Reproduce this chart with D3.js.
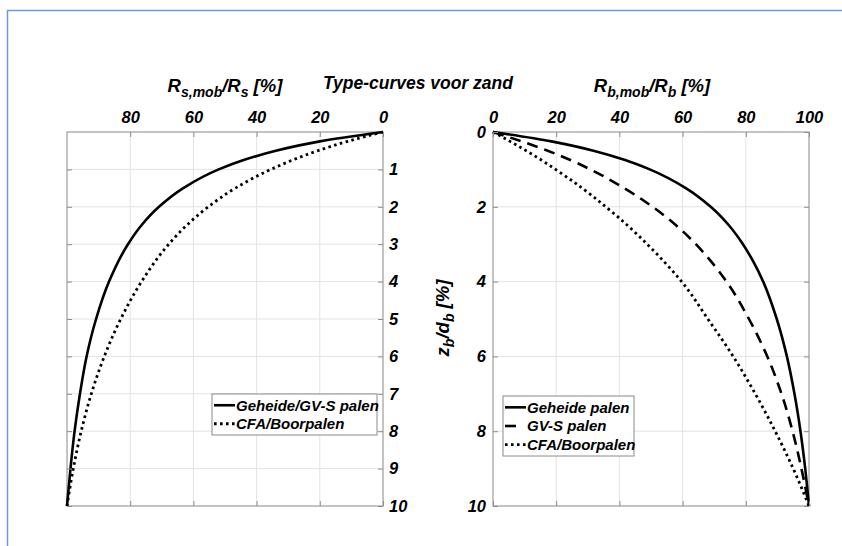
<!DOCTYPE html>
<html><head><meta charset="utf-8">
<script src="https://cdn.jsdelivr.net/npm/d3@7"></script>
<style>
html,body{margin:0;padding:0;background:#fff;}
svg{display:block;}
text{font-family:"Liberation Sans",Arial,sans-serif;font-weight:bold;font-style:italic;fill:#000;}
</style></head>
<body>
<script>
// ---------- data ----------
const zLeft        = [0, 0.25, 0.5, 0.75, 1, 1.5, 2, 2.5, 3, 4, 5, 6, 7, 8, 9, 10];
const leftGeheide  = [0, 20.0, 33.9, 44.1, 52.0, 63.2, 70.9, 76.5, 80.7, 86.7, 90.8, 93.8, 95.9, 97.6, 98.9, 100];
const leftCFA      = [0, 11.2, 20.6, 28.6, 35.5, 46.7, 55.3, 62.2, 67.8, 76.4, 83.0, 88.2, 92.3, 95.5, 98.0, 100];

const zRight       = [0, 0.25, 0.5, 0.75, 1, 1.5, 2, 2.5, 3, 3.5, 4, 5, 6, 7, 8, 9, 10];
const rightGeheide = [0, 18.5, 31.8, 41.8, 49.6, 61.0, 68.9, 74.7, 79.1, 82.6, 85.5, 89.8, 93.0, 95.4, 97.3, 98.8, 100];
const rightGVS     = [0, 9.0, 17.3, 24.5, 30.8, 41.5, 50.5, 58.0, 64.2, 69.4, 73.9, 81.0, 86.8, 91.3, 94.8, 97.6, 100];
const rightCFA     = [0, 5.4, 10.5, 15.3, 19.8, 28.2, 35.7, 42.6, 48.8, 54.5, 59.7, 68.0, 76.0, 83.0, 89.3, 95.0, 100];

const leftXTicks   = [80, 60, 40, 20, 0];
const leftXGrid    = [100, 80, 60, 40, 20, 0];
const leftYTicks   = [1, 2, 3, 4, 5, 6, 7, 8, 9, 10];
const leftYGrid    = [0, 1, 2, 3, 4, 5, 6, 7, 8, 9, 10];
const rightXTicks  = [0, 20, 40, 60, 80, 100];
const rightYTicks  = [0, 2, 4, 6, 8, 10];

const title        = "Type-curves voor zand";
const leftLegend   = ["Geheide/GV-S palen", "CFA/Boorpalen"];
const rightLegend  = ["Geheide palen", "GV-S palen", "CFA/Boorpalen"];

// ---------- drawing ----------
const W = 842, H = 546;
const svg = d3.select("body").append("svg").attr("width", W).attr("height", H);

// outer blue frame
svg.append("line").attr("x1", 7).attr("y1", 10.5).attr("x2", W).attr("y2", 10.5)
  .attr("stroke", "#6a9ad8").attr("stroke-width", 1.5);
svg.append("line").attr("x1", 7.5).attr("y1", 10).attr("x2", 7.5).attr("y2", H)
  .attr("stroke", "#6a9ad8").attr("stroke-width", 1.5);

const yTop = 132, yBot = 506;
const y = d3.scaleLinear().domain([0, 10]).range([yTop, yBot]);
const xL = d3.scaleLinear().domain([100, 0]).range([67, 383]);
const xR = d3.scaleLinear().domain([0, 100]).range([493, 809]);

const styles = {
  solid:  {dash: null,   w: 2.6, legendDash: null},
  dashed: {dash: "11,7", w: 2.6, legendDash: "11,14"},
  dotted: {dash: "2.6,3.4", w: 2.8, legendDash: "2.6,3.4"}
};

function panel(x, xGrid, yGrid) {
  const g = svg.append("g");
  const [x0, x1] = d3.extent(x.range());
  g.selectAll(".gx").data(xGrid).join("line")
    .attr("x1", d => x(d)).attr("x2", d => x(d)).attr("y1", yTop).attr("y2", yBot)
    .attr("stroke", "#e3e3e3").attr("stroke-width", 1);
  g.selectAll(".gy").data(yGrid).join("line")
    .attr("x1", x0).attr("x2", x1).attr("y1", d => y(d)).attr("y2", d => y(d))
    .attr("stroke", "#e3e3e3").attr("stroke-width", 1);
  g.append("rect").attr("x", x0).attr("y", yTop).attr("width", x1 - x0).attr("height", yBot - yTop)
    .attr("fill", "none").attr("stroke", "#a6a6a6").attr("stroke-width", 1.2);
  return g;
}

function ticksAll(x, xT, yT, yOnRight) {
  const [x0, x1] = d3.extent(x.range());
  const axT = svg.append("g").attr("transform", `translate(0,${yTop})`)
    .call(d3.axisTop(x).tickValues(xT).tickSizeInner(-5).tickSizeOuter(0).tickPadding(9)
      .tickFormat(d3.format("d")));
  const axB = svg.append("g").attr("transform", `translate(0,${yBot})`)
    .call(d3.axisBottom(x).tickValues(xT).tickSizeInner(-5).tickSizeOuter(0).tickFormat(""));
  let axY1, axY2;
  if (yOnRight) {
    axY1 = svg.append("g").attr("transform", `translate(${x1},0)`)
      .call(d3.axisRight(y).tickValues(yT).tickSizeInner(-5).tickSizeOuter(0).tickPadding(6).tickFormat(d3.format("d")));
    axY2 = svg.append("g").attr("transform", `translate(${x0},0)`)
      .call(d3.axisLeft(y).tickValues(yT).tickSizeInner(-5).tickSizeOuter(0).tickFormat(""));
  } else {
    axY1 = svg.append("g").attr("transform", `translate(${x0},0)`)
      .call(d3.axisLeft(y).tickValues(yT).tickSizeInner(-5).tickSizeOuter(0).tickPadding(7).tickFormat(d3.format("d")));
    axY2 = svg.append("g").attr("transform", `translate(${x1},0)`)
      .call(d3.axisRight(y).tickValues(yT).tickSizeInner(-5).tickSizeOuter(0).tickFormat(""));
  }
  [axT, axB, axY1, axY2].forEach(a => {
    a.select(".domain").remove();
    a.selectAll("line").attr("stroke", "#8c8c8c");
    a.selectAll("text").attr("font-size", 16.5)
      .attr("font-family", '"Liberation Sans", Arial, sans-serif')
      .attr("font-weight", "bold").attr("font-style", "italic").attr("fill", "#000");
  });
}

function curve(x, zs, vs, style) {
  const line = d3.line().x(d => x(d[1])).y(d => y(d[0])).curve(d3.curveMonotoneY);
  const p = svg.append("path").datum(zs.map((z, i) => [z, vs[i]]))
    .attr("d", line).attr("fill", "none").attr("stroke", "#000")
    .attr("stroke-width", styles[style].w).attr("stroke-linejoin", "round");
  if (styles[style].dash) p.attr("stroke-dasharray", styles[style].dash);
}

function legend(x0, y0, w, h, items) {
  const g = svg.append("g");
  g.append("rect").attr("x", x0).attr("y", y0).attr("width", w).attr("height", h)
    .attr("fill", "#fff").attr("stroke", "#8a8a8a").attr("stroke-width", 1);
  const rowH = (h - 4) / items.length;
  items.forEach((it, i) => {
    const cy = y0 + 2 + rowH * (i + 0.5);
    const l = g.append("line").attr("x1", x0 + 2).attr("x2", x0 + 23).attr("y1", cy).attr("y2", cy)
      .attr("stroke", "#000").attr("stroke-width", styles[it.style].w);
    if (styles[it.style].legendDash) l.attr("stroke-dasharray", styles[it.style].legendDash);
    g.append("text").attr("x", x0 + 24).attr("y", cy).attr("dy", "0.35em")
      .attr("font-size", 15).text(it.label);
  });
}

// Left panel
panel(xL, leftXGrid, leftYGrid);
curve(xL, zLeft, leftCFA, "dotted");
curve(xL, zLeft, leftGeheide, "solid");
ticksAll(xL, leftXTicks, leftYTicks, true);
legend(212, 394, 165, 41, [
  {label: leftLegend[0], style: "solid"},
  {label: leftLegend[1], style: "dotted"}
]);

// Right panel
panel(xR, rightXTicks, rightYTicks);
curve(xR, zRight, rightCFA, "dotted");
curve(xR, zRight, rightGVS, "dashed");
curve(xR, zRight, rightGeheide, "solid");
ticksAll(xR, rightXTicks, rightYTicks, false);
legend(503, 396, 131, 60, [
  {label: rightLegend[0], style: "solid"},
  {label: rightLegend[1], style: "dashed"},
  {label: rightLegend[2], style: "dotted"}
]);

// Title and axis labels
svg.append("text").attr("x", 418).attr("y", 89).attr("text-anchor", "middle")
  .attr("font-size", 17.5).text(title);

function ratioLabel(cx, cy, sub) {
  const t = svg.append("text").attr("x", cx).attr("y", cy).attr("text-anchor", "middle").attr("font-size", 18.5);
  t.append("tspan").text("R");
  t.append("tspan").attr("font-size", 14).attr("dy", 5).text(sub + ",mob");
  t.append("tspan").attr("dy", -5).text("/R");
  t.append("tspan").attr("font-size", 14).attr("dy", 5).text(sub);
  t.append("tspan").attr("dy", -5).text(" [%]");
}
ratioLabel(225, 92, "s");
ratioLabel(652, 92, "b");

const yl = svg.append("text").attr("transform", "translate(449,318) rotate(-90)")
  .attr("text-anchor", "middle").attr("font-size", 18.5);
yl.append("tspan").text("z");
yl.append("tspan").attr("font-size", 14).attr("dy", 5).text("b");
yl.append("tspan").attr("dy", -5).text("/d");
yl.append("tspan").attr("font-size", 14).attr("dy", 5).text("b");
yl.append("tspan").attr("dy", -5).text(" [%]");
</script>
</body></html>
